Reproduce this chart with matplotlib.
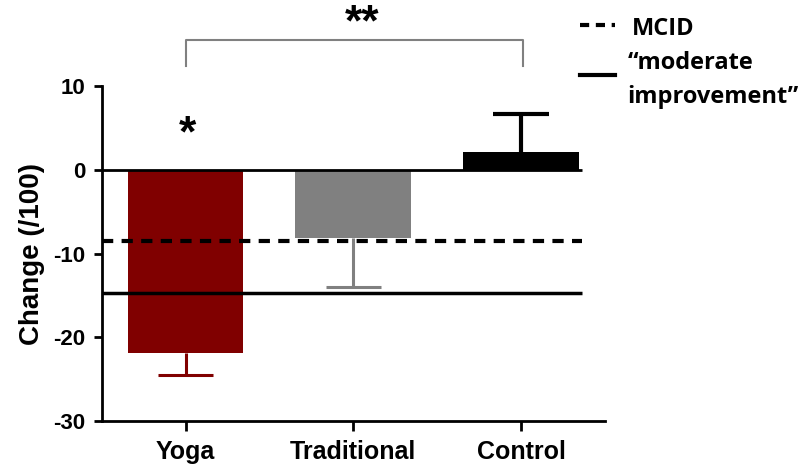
import matplotlib
matplotlib.use('Agg')
import numpy as np
from matplotlib import pyplot as plt
from matplotlib.lines import Line2D

# data
groups = ['Yoga', 'Traditional', 'Control']
change = [-21.9, -8.2, 2.1]
err_low = [2.6, 5.8, 0.0]
err_high = [0.0, 0.0, 4.6]
bar_colors = ['#800000', '#808080', '#000000']
mcid = -8.5
moderate = -14.7
y_ticks = [-30, -20, -10, 0, 10]

plt.rcParams['font.family'] = ['Liberation Sans', 'DejaVu Sans']
plt.rcParams['font.weight'] = 'bold'
plt.rcParams['axes.unicode_minus'] = False

fig = plt.figure(figsize=(8.04, 4.65), dpi=100)
ax = fig.add_axes([0.1265, 0.0946, 0.626, 0.7204])

x = np.arange(len(groups))
cap_half = 0.165

# one-sided error bars: stem from the bar end, cap only at the far end
for i in range(len(groups)):
    lw = 2.2 if i < 2 else 3
    tip = change[i] - err_low[i] + err_high[i]
    ax.vlines(x[i], change[i], tip, color=bar_colors[i], lw=lw, zorder=1)
    ax.hlines(tip, x[i] - cap_half, x[i] + cap_half, color=bar_colors[i], lw=lw, zorder=1)

ax.bar(x, change, width=0.69, color=bar_colors, zorder=2)

# zero line and reference lines
ax.hlines(0, -0.5, 2.36, color='black', lw=2, zorder=3)
ax.hlines(mcid, -0.5, 2.36, color='black', lw=3, linestyles=(0, (2.7, 2)), zorder=3)
ax.hlines(moderate, -0.5, 2.36, color='black', lw=2.5, zorder=3)

ax.set_xlim(-0.5, 2.5)
ax.set_ylim(-30, 10)
ax.set_yticks(y_ticks)
ax.set_xticks(x)
ax.set_xticklabels(groups, fontsize=18, fontweight='bold')
ax.tick_params(axis='y', labelsize=16, width=2, length=6, pad=6)
ax.tick_params(axis='x', width=2, length=7, pad=7)
for lab in ax.get_yticklabels():
    lab.set_fontweight('bold')

for side in ['top', 'right']:
    ax.spines[side].set_visible(False)
for side in ['left', 'bottom']:
    ax.spines[side].set_linewidth(2)

ax.set_ylabel('Change (/100)', fontsize=20, fontweight='bold', labelpad=6)

# significance marks
ax.plot([0, 0, 2.01, 2.01], [12.4, 15.5, 15.5, 12.4], color='#808080', lw=1.5,
        clip_on=False)
ax.text(1.05, 17.4, '**', ha='center', va='center', fontsize=32, clip_on=False)
ax.text(0.01, 4.2, '*', ha='center', va='center', fontsize=32)

# hand-made key at top right
ax.add_line(Line2D([0.950, 1.020], [1.182, 1.182], transform=ax.transAxes,
                   color='black', lw=3, linestyle=(0, (2.2, 1.6)), clip_on=False))
ax.add_line(Line2D([0.950, 1.020], [1.033, 1.033], transform=ax.transAxes,
                   color='black', lw=3, clip_on=False))
key_font = dict(family=['Open Sans', 'DejaVu Sans'], fontsize=17, fontweight='bold',
                transform=ax.transAxes, va='center', ha='left')
ax.text(1.053, 1.170, 'MCID', **key_font)
ax.text(1.045, 1.069, '\u201cmoderate', **key_font)
ax.text(1.045, 0.967, 'improvement\u201d', **key_font)

fig.savefig('out.png', dpi=100)
